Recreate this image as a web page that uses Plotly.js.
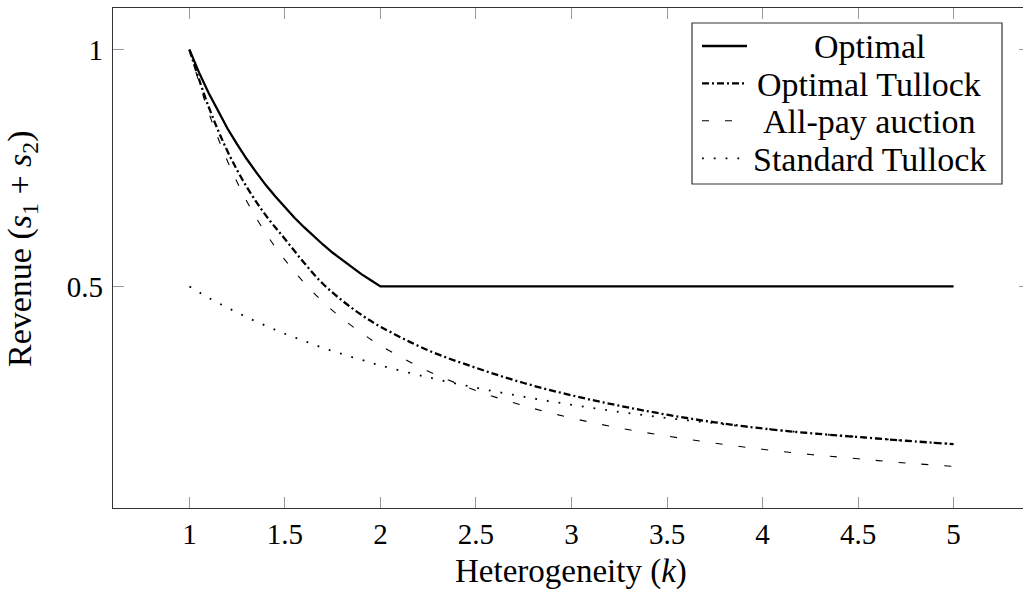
<!DOCTYPE html>
<html>
<head>
<meta charset="utf-8">
<script src="https://cdn.plot.ly/plotly-3.0.1.min.js"></script>
<style>
html, body { margin: 0; padding: 0; overflow: hidden; background: #fff; }
#chart { width: 1050px; height: 592px; }
</style>
</head>
<body>
<div id="chart"></div>
<script>
// Heterogeneity k
const kOptimal = [1, 1.05, 1.1, 1.15, 1.2, 1.25, 1.3, 1.35, 1.4, 1.45, 1.5, 1.55, 1.6, 1.65, 1.7, 1.75, 1.8, 1.85, 1.9, 1.95, 2, 5];
const revOptimal = [1, 0.952, 0.909, 0.870, 0.833, 0.8, 0.769, 0.741, 0.714, 0.690, 0.667, 0.645, 0.625, 0.606, 0.588, 0.571, 0.556, 0.541, 0.526, 0.513, 0.5, 0.5];

const kCurves = [1, 1.1, 1.2, 1.3, 1.4, 1.5, 1.6, 1.7, 1.8, 1.9, 2, 2.25, 2.5, 2.75, 3, 3.25, 3.5, 3.75, 4, 4.25, 4.5, 4.75, 5];
const revOptimalTullock = [1, 0.88, 0.785, 0.71, 0.65, 0.60, 0.55, 0.505, 0.47, 0.44, 0.415, 0.365, 0.328, 0.296, 0.27, 0.248, 0.229, 0.213, 0.2, 0.19, 0.182, 0.174, 0.167];
const revAllPay = [1, 0.868, 0.764, 0.68, 0.612, 0.556, 0.508, 0.467, 0.432, 0.402, 0.375, 0.321, 0.28, 0.248, 0.222, 0.201, 0.184, 0.169, 0.156, 0.145, 0.136, 0.127, 0.12];
const revStandardTullock = [0.5, 0.476, 0.455, 0.435, 0.417, 0.4, 0.385, 0.37, 0.357, 0.345, 0.333, 0.308, 0.286, 0.267, 0.25, 0.235, 0.222, 0.211, 0.2, 0.19, 0.182, 0.174, 0.167];

const seriesNames = ['Optimal', 'Optimal Tullock', 'All-pay auction', 'Standard Tullock'];
const xTickVals = [1, 1.5, 2, 2.5, 3, 3.5, 4, 4.5, 5];
const xTickText = ['1', '1.5', '2', '2.5', '3', '3.5', '4', '4.5', '5'];
const yTickVals = [0.5, 1];
const yTickText = ['0.5', '1'];
const xTitle = 'Heterogeneity (<i>k</i>)';
const yTitle = 'Revenue (<i>s</i><sub>1</sub> + <i>s</i><sub>2</sub>)';

const FONT = "Liberation Serif";

const styles = [
  {color: '#000', width: 2.3, dash: 'solid', shape: 'linear'},
  {color: '#000', width: 2.3, dash: '7px,3px,2px,3px', shape: 'spline'},
  {color: '#000', width: 1.1, dash: '7px,16px', shape: 'spline'},
  {color: '#000', width: 1.8, dash: '1.8px,10px', shape: 'spline'}
];

const xs = [kOptimal, kCurves, kCurves, kCurves];
const ys = [revOptimal, revOptimalTullock, revAllPay, revStandardTullock];

const traces = seriesNames.map((n, i) => ({
  x: xs[i], y: ys[i], name: n, type: 'scatter', mode: 'lines',
  line: {color: styles[i].color, width: styles[i].width, dash: styles[i].dash, shape: styles[i].shape, smoothing: 1},
  showlegend: false, hoverinfo: 'skip'
}));

// plot-area geometry in pixels (layout only)
const W = 917, H = 500, L = 113, T = 8;
const px = v => (v - L) / W;
const py = v => (T + H - v) / H;

// custom legend (centered text like the original)
const rowY = [46, 83.3, 120.7, 158.3];
const shapes = [{
  type: 'rect', xref: 'paper', yref: 'paper',
  x0: px(692), x1: px(1002), y0: py(184), y1: py(23),
  line: {color: '#333', width: 1.2}, fillcolor: '#fff', layer: 'above'
}];
const annotations = [];
seriesNames.forEach((n, i) => {
  shapes.push({
    type: 'line', xref: 'paper', yref: 'paper',
    x0: px(702), x1: px(747), y0: py(rowY[i]), y1: py(rowY[i]),
    line: {color: styles[i].color, width: styles[i].width, dash: styles[i].dash}, layer: 'above'
  });
  annotations.push({
    xref: 'paper', yref: 'paper', x: px(869), y: py(rowY[i] + 1), text: n,
    showarrow: false, xanchor: 'center', yanchor: 'middle',
    font: {family: FONT, size: 34, color: '#000000'}
  });
});

// axis titles
annotations.push({
  xref: 'paper', yref: 'paper', x: px(571), y: py(571), text: xTitle,
  showarrow: false, xanchor: 'center', yanchor: 'middle',
  font: {family: FONT, size: 33, color: '#000000'}
});
annotations.push({
  xref: 'paper', yref: 'paper', x: px(22), y: py(249), text: yTitle, textangle: -90,
  showarrow: false, xanchor: 'center', yanchor: 'middle',
  font: {family: FONT, size: 34, color: '#000000'}
});

const axisCommon = {
  showline: true, linecolor: '#333', linewidth: 1.2, mirror: 'allticks',
  ticks: 'inside', ticklen: 11, tickwidth: 1, tickcolor: '#999',
  showgrid: false, zeroline: false, tickmode: 'array',
  tickfont: {family: FONT, size: 29, color: '#000000'}
};

const layout = {
  width: 1050, height: 592,
  margin: {l: L, r: 1050 - L - W, t: T, b: 592 - T - H},
  paper_bgcolor: '#fff', plot_bgcolor: '#fff',
  xaxis: Object.assign({}, axisCommon, {
    range: [0.6, 5.4], tickvals: xTickVals, ticktext: xTickText
  }),
  yaxis: Object.assign({}, axisCommon, {
    range: [0.032, 1.088], tickvals: yTickVals, ticktext: yTickText,
    ticklabelstandoff: 3
  }),
  shapes: shapes,
  annotations: annotations,
  showlegend: false
};

Plotly.newPlot('chart', traces, layout, {staticPlot: true});
</script>
</body>
</html>
